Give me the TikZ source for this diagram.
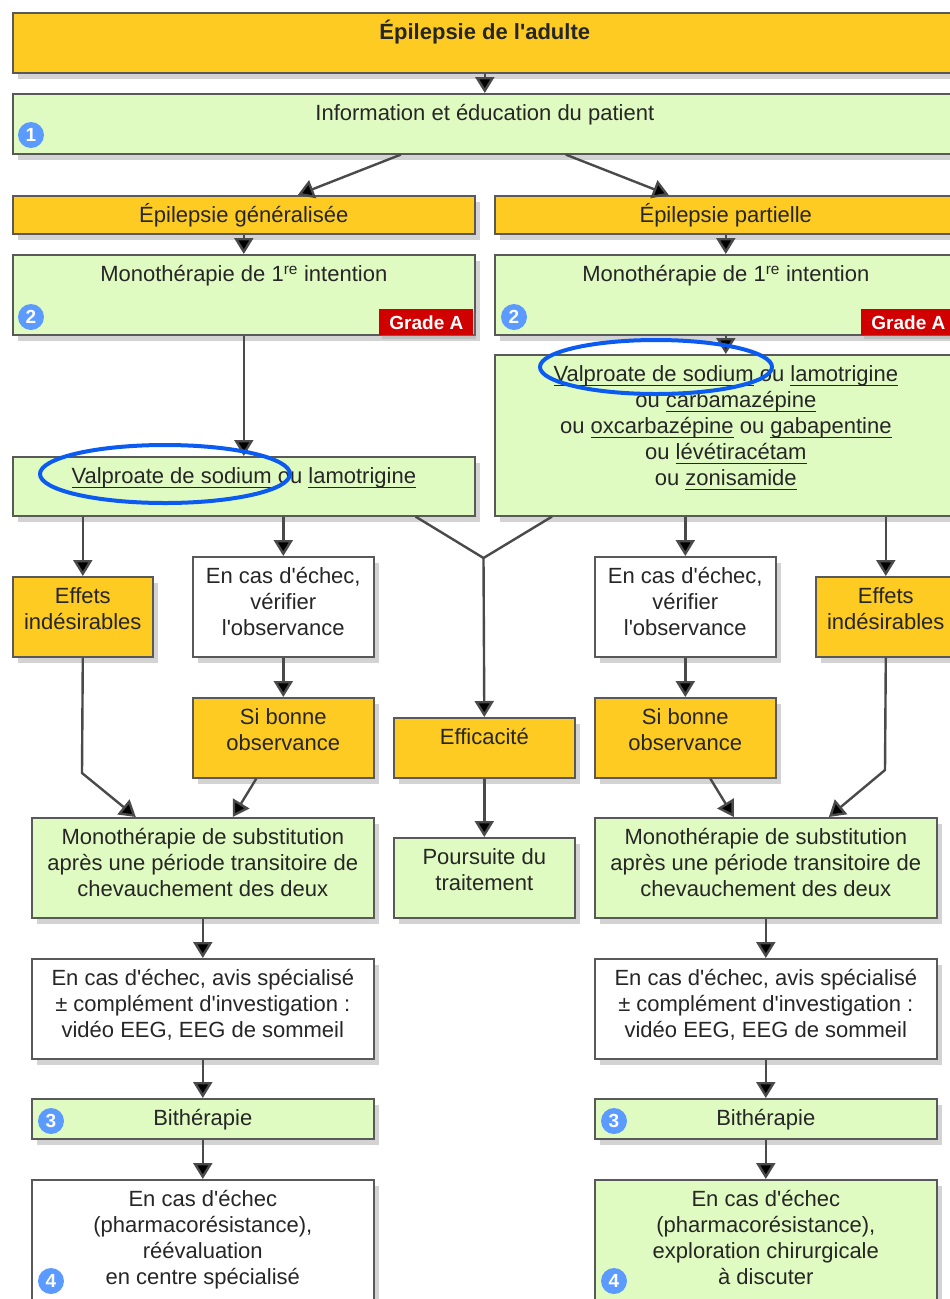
\documentclass[tikz,border=0pt]{standalone}
\usepackage{fontspec}
\setmainfont{Liberation Sans}[Ligatures=TeXOff]
\usetikzlibrary{arrows.meta,shadows}

\definecolor{jaune}{HTML}{FDCB22}
\definecolor{vert}{HTML}{E0FBC2}
\definecolor{bord}{HTML}{595959}
\definecolor{pastille}{HTML}{5B9BFF}
\definecolor{rouge}{HTML}{D10000}
\definecolor{cercle}{HTML}{0B5BF0}
\definecolor{encre}{HTML}{262626}
\definecolor{filet}{HTML}{4A4A4A}

\newcommand{\cadre}[3]{\parbox[c][#2pt][t]{#1pt}{\centering\rule{0pt}{27pt}#3}}
\newsavebox{\medbox}
\newcommand{\med}[1]{\sbox{\medbox}{#1}\rlap{\rule[-4.5pt]{\wd\medbox}{1.2pt}}\usebox{\medbox}}

\tikzstyle{boite} = [draw=bord, line width=1.6pt, inner sep=0pt, anchor=north west, text=encre,
  drop shadow={shadow xshift=5pt, shadow yshift=-6pt, opacity=.35}]
\tikzstyle{jaunebox} = [boite, fill=jaune]
\tikzstyle{vertbox} = [boite, fill=vert]
\tikzstyle{blancbox} = [boite, fill=white]
\tikzstyle{num} = [circle, fill=pastille, text=white, minimum size=26pt, inner sep=0pt,
  font=\fontsize{19}{19}\selectfont\bfseries]
\tikzstyle{grade} = [fill=rouge, text=white, minimum width=94pt, minimum height=26pt, inner sep=0pt,
  anchor=south east, font=\fontsize{19}{19}\selectfont\bfseries,
  drop shadow={shadow xshift=3pt, shadow yshift=-4pt, opacity=.25}]
\tikzstyle{fleche} = [draw=filet, line width=2.4pt, -{Triangle[width=19pt,length=16pt,fill=black]}]
\tikzstyle{trait} = [draw=filet, line width=2.4pt]
\tikzstyle{ovale} = [draw=cercle, line width=4pt]

\begin{document}
\begin{tikzpicture}[x=1pt, y=-1pt, font=\fontsize{22}{26}\selectfont]
  \useasboundingbox (0,0) rectangle (950,1299);
  \clip (0,0) rectangle (950,1299);

  \node[jaunebox] (adulte) at (12,12) {\cadre{944}{60}{\bfseries Épilepsie de l'adulte}};
  \node[vertbox] (info) at (12,93) {\cadre{944}{60}{Information et éducation du patient}};
  \node[num] (n1) at (31,135) {1};

  \node[jaunebox] (gen) at (12,195) {\cadre{462}{38}{Épilepsie généralisée}};
  \node[jaunebox] (part) at (494,195) {\cadre{462}{38}{Épilepsie partielle}};

  \node[vertbox] (monoG) at (12,254) {\cadre{462}{80}{Monothérapie de 1\textsuperscript{re} intention}};
  \node[num] (n2G) at (31,317) {2};
  \node[grade] (gradeG) at ([xshift=-2pt]monoG.south east) {Grade A};
  \node[vertbox] (monoD) at (494,254) {\cadre{462}{80}{Monothérapie de 1\textsuperscript{re} intention}};
  \node[num] (n2D) at (514,317) {2};
  \node[grade] (gradeD) at ([xshift=-2pt]monoD.south east) {Grade A};

  \node[vertbox] (valG) at (12,456) {\cadre{462}{59}{\med{Valproate de sodium} ou \med{lamotrigine}}};
  \node[vertbox] (molD) at (494,354) {\cadre{462}{161}{\med{Valproate de sodium} ou \med{lamotrigine}\\
    ou \med{carbamazépine}\\ ou \med{oxcarbazépine} ou \med{gabapentine}\\
    ou \med{lévétiracétam}\\ ou \med{zonisamide}}};

  \node[jaunebox] (effG) at (12,576) {\cadre{140}{80}{Effets\\indésirables}};
  \node[blancbox] (echG) at (192,556) {\cadre{181}{100}{En cas d'échec,\\vérifier\\l'observance}};
  \node[jaunebox] (sbG) at (192,697) {\cadre{181}{80}{Si bonne\\observance}};
  \node[jaunebox] (effic) at (393,717) {\cadre{181}{60}{Efficacité}};
  \node[blancbox] (echD) at (594,556) {\cadre{181}{100}{En cas d'échec,\\vérifier\\l'observance}};
  \node[jaunebox] (sbD) at (594,697) {\cadre{181}{80}{Si bonne\\observance}};
  \node[jaunebox] (effD) at (815,576) {\cadre{140}{80}{Effets\\indésirables}};

  \node[vertbox] (subG) at (31,817) {\cadre{342}{100}{Monothérapie de substitution\\
    après une période transitoire de\\chevauchement des deux}};
  \node[vertbox] (pours) at (393,837) {\cadre{181}{80}{Poursuite du\\traitement}};
  \node[vertbox] (subD) at (594,817) {\cadre{342}{100}{Monothérapie de substitution\\
    après une période transitoire de\\chevauchement des deux}};

  \node[blancbox] (avisG) at (31,958) {\cadre{342}{100}{En cas d'échec, avis spécialisé\\
    ± complément d'investigation :\\vidéo EEG, EEG de sommeil}};
  \node[blancbox] (avisD) at (594,958) {\cadre{342}{100}{En cas d'échec, avis spécialisé\\
    ± complément d'investigation :\\vidéo EEG, EEG de sommeil}};

  \node[vertbox] (biG) at (31,1098) {\cadre{342}{40}{Bithérapie}};
  \node[num] (n3G) at (51,1121) {3};
  \node[vertbox] (biD) at (594,1098) {\cadre{342}{40}{Bithérapie}};
  \node[num] (n3D) at (614,1121) {3};

  \node[blancbox] (finG) at (31,1179) {\cadre{342}{130}{En cas d'échec\\(pharmacorésistance),\\
    réévaluation\\en centre spécialisé}};
  \node[num] (n4G) at (51,1281) {4};
  \node[vertbox] (finD) at (594,1179) {\cadre{342}{130}{En cas d'échec\\(pharmacorésistance),\\
    exploration chirurgicale\\à discuter}};
  \node[num] (n4D) at (614,1281) {4};

  \coordinate (jonc) at (483.5,558);
  \coordinate (coudeG) at (82,773);
  \coordinate (coudeD) at (885,770);

  \draw[fleche] (adulte) -- (info);
  \draw[fleche] ([xshift=-84pt]info.south) -- ([xshift=54pt]gen.north);
  \draw[fleche] ([xshift=81pt]info.south) -- ([xshift=-57pt]part.north);
  \draw[fleche] (gen) -- (monoG);
  \draw[fleche] (part) -- (monoD);
  \draw[fleche] (monoG) -- (valG);
  \draw[fleche] (monoD) -- (molD);

  \draw[fleche] (valG.south -| effG.north) -- (effG.north);
  \draw[fleche] (valG.south -| echG.north) -- (echG.north);
  \draw[trait] ([xshift=-60pt]valG.south east) -- (jonc) -- ([xshift=58pt]molD.south west);
  \draw[fleche] (jonc) -- (effic.north);
  \draw[fleche] (molD.south -| echD.north) -- (echD.north);
  \draw[fleche] (molD.south -| effD.north) -- (effD.north);

  \draw[fleche] (echG) -- (sbG);
  \draw[fleche] (echD) -- (sbD);
  \draw[fleche] ([xshift=-27pt]sbG.south) -- ([xshift=30pt]subG.north);
  \draw[fleche] ([xshift=25pt]sbD.south) -- ([xshift=-32pt]subD.north);
  \draw[fleche] (effG.south) -- (coudeG) -- ([xshift=-67pt]subG.north);
  \draw[fleche] (effD.south) -- (coudeD) -- ([xshift=63pt]subD.north);
  \draw[fleche] (effic) -- (pours);

  \draw[fleche] (subG) -- (avisG);
  \draw[fleche] (avisG) -- (biG);
  \draw[fleche] (biG) -- (finG);
  \draw[fleche] (subD) -- (avisD);
  \draw[fleche] (avisD) -- (biD);
  \draw[fleche] (biD) -- (finD);

  \draw[ovale] (165,474) ellipse [x radius=125, y radius=29];
  \draw[ovale] (656,367) ellipse [x radius=116, y radius=27];
\end{tikzpicture}
\end{document}
